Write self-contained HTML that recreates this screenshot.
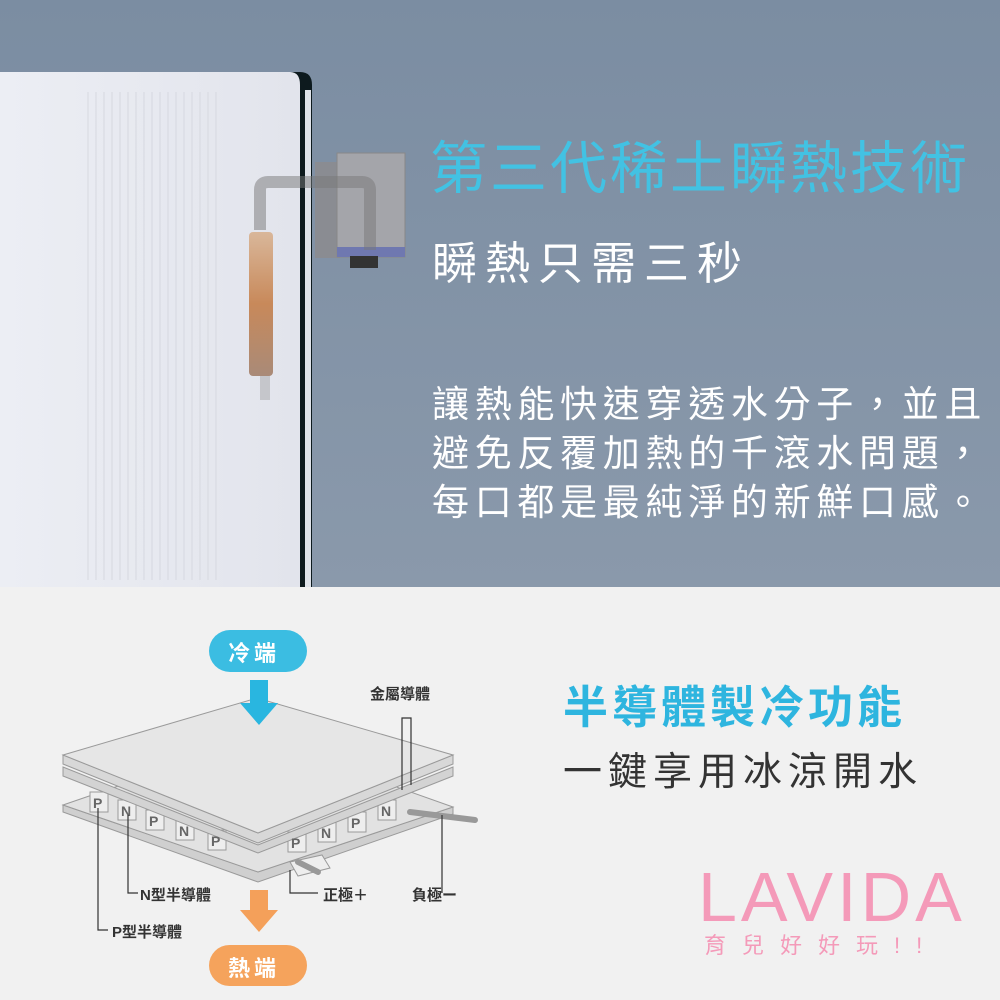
<!DOCTYPE html>
<html><head><meta charset="utf-8"><style>
body{margin:0;width:1000px;height:1000px;overflow:hidden;font-family:"Liberation Sans","Noto Sans CJK TC",sans-serif}
.t{position:absolute;white-space:nowrap}
</style></head><body>
<div style="position:absolute;left:0;top:0;width:1000px;height:587px;background:linear-gradient(#7b8da2,#8a99ab)"></div>
<div style="position:absolute;left:0;top:587px;width:1000px;height:413px;background:#f1f1f1"></div>
<svg width="1000" height="1000" style="position:absolute;left:0;top:0">
<defs><linearGradient id="w" x1="0" x2="1"><stop offset="0" stop-color="#eceef4"/><stop offset="1" stop-color="#e2e4ec"/></linearGradient>
<linearGradient id="c" x1="0" x2="0" y1="0" y2="1"><stop offset="0" stop-color="#d9b79a"/><stop offset=".5" stop-color="#c8895a"/><stop offset="1" stop-color="#a98a78"/></linearGradient></defs>
<path d="M0 72 H300 Q312 72 312 85 V587 H0Z" fill="#0d1a1e"/>
<path d="M0 72 H290 Q300 72 300 85 V587 H0Z" fill="url(#w)"/>
<rect x="305" y="90" width="6" height="497" fill="#dfe3ea"/>
<g stroke="#d6d8e0" stroke-width="1">
<line x1="88" y1="92" x2="88" y2="580"/><line x1="96" y1="92" x2="96" y2="580"/><line x1="104" y1="92" x2="104" y2="580"/><line x1="112" y1="92" x2="112" y2="580"/><line x1="120" y1="92" x2="120" y2="580"/><line x1="128" y1="92" x2="128" y2="580"/><line x1="136" y1="92" x2="136" y2="580"/><line x1="144" y1="92" x2="144" y2="580"/><line x1="152" y1="92" x2="152" y2="580"/><line x1="160" y1="92" x2="160" y2="580"/><line x1="168" y1="92" x2="168" y2="580"/><line x1="176" y1="92" x2="176" y2="580"/><line x1="184" y1="92" x2="184" y2="580"/><line x1="192" y1="92" x2="192" y2="580"/><line x1="200" y1="92" x2="200" y2="580"/><line x1="208" y1="92" x2="208" y2="580"/><line x1="216" y1="92" x2="216" y2="580"/>
</g>
<rect x="315" y="162" width="25" height="96" fill="#8a8c92"/>
<rect x="337" y="153" width="68" height="104" fill="#a4a5aa" stroke="#888"/>
<rect x="337" y="247" width="68" height="10" fill="#6f78b0"/>
<rect x="350" y="256" width="28" height="12" fill="#333"/>
<path d="M260 230 V190 Q260 182 268 182 H362 Q370 182 370 190 V250" fill="none" stroke="#777" stroke-opacity=".5" stroke-width="12"/>
<rect x="260" y="270" width="10" height="130" fill="#999" opacity=".4"/>
<rect x="249" y="232" width="24" height="144" rx="4" fill="url(#c)"/>
<!-- diagram -->
<rect x="209" y="630" width="98" height="42" rx="21" fill="#3bbde2"/>
<g stroke="#9a9a9a" stroke-width="1">
<path d="M63 805 L258 872 L453 807 V814 L258 882 L63 812Z" fill="#cfcfcf"/>
<path d="M63 805 L258 738 L453 807 L258 872Z" fill="#e2e2e2"/>
<g fill="#eeeeee">
<rect x="90" y="792" width="18" height="20"/><rect x="118" y="800" width="18" height="20"/><rect x="146" y="810" width="18" height="20"/><rect x="176" y="820" width="18" height="20"/><rect x="208" y="830" width="18" height="20"/>
<rect x="288" y="832" width="18" height="20"/><rect x="318" y="822" width="18" height="20"/><rect x="348" y="812" width="18" height="20"/><rect x="378" y="800" width="18" height="20"/>
</g>
<path d="M63 767 L258 845 L453 767 V776 L258 853 L63 776Z" fill="#d3d3d3"/>
<path d="M63 755 L258 833 L453 755 V764 L258 843 L63 764Z" fill="#d8d8d8"/>
<path d="M63 755 L257 698 L453 755 L258 833Z" fill="#e6e6e6"/>
<path d="M290 862 L322 855 L330 868 L298 876Z" fill="#eee"/>
<path d="M298 862 L318 872" stroke="#999" stroke-width="6" stroke-linecap="round"/>
<path d="M410 812 L475 820" stroke="#999" stroke-width="6" stroke-linecap="round"/>
</g>
<path d="M250 680 H268 V703 H278 L259 725 L240 703 H250Z" fill="#29b6e0"/>
<g fill="#666" font-size="14" font-weight="bold" font-family="Liberation Sans">
<text x="93" y="808">P</text><text x="121" y="816">N</text><text x="149" y="826">P</text><text x="179" y="836">N</text><text x="211" y="846">P</text><text x="291" y="848">P</text><text x="321" y="838">N</text><text x="351" y="828">P</text><text x="381" y="816">N</text>
</g>
<g stroke="#333" stroke-width="1.2" fill="none">
<path d="M98 808 V930 H108"/><path d="M128 815 V893 H138"/><path d="M290 870 V893 H318"/><path d="M442 815 V893"/>
<path d="M402 790 V718 H411 V785"/>
</g>
<path d="M250 890 H268 V910 H278 L259 932 L240 910 H250Z" fill="#f4a05a"/>
<rect x="209" y="945" width="98" height="41" rx="20.5" fill="#f5a35c"/>
</svg>
<div class="t" style="left:228px;top:636px;font-size:22px;color:#fff;letter-spacing:4px;font-weight:bold">冷端</div>
<div class="t" style="left:228px;top:951px;font-size:22px;color:#fff;letter-spacing:4px;font-weight:bold">熱端</div>
<div class="t" style="left:370px;top:683px;font-size:15px;color:#333;font-weight:bold">金屬導體</div>
<div class="t" style="left:140px;top:884px;font-size:15px;color:#333;font-weight:bold">N型半導體</div>
<div class="t" style="left:112px;top:921px;font-size:15px;color:#333;font-weight:bold">P型半導體</div>
<div class="t" style="left:323px;top:884px;font-size:15px;color:#333;font-weight:bold">正極＋</div>
<div class="t" style="left:412px;top:884px;font-size:15px;color:#333;font-weight:bold">負極ー</div>
<div class="t" style="left:430px;top:136px;font-size:57px;color:#42c2e3;letter-spacing:3px;line-height:66px">第三代稀土瞬熱技術</div>
<div class="t" style="left:432px;top:237px;font-size:45px;color:#fff;letter-spacing:8px;line-height:54px">瞬熱只需三秒</div>
<div class="t" style="left:432px;top:380px;font-size:37px;color:#fff;letter-spacing:5.7px;line-height:49px">讓熱能快速穿透水分子，並且<br>避免反覆加熱的千滾水問題，<br>每口都是最純淨的新鮮口感。</div>
<div class="t" style="left:563px;top:681px;font-size:45px;color:#2eb5df;letter-spacing:4px;line-height:54px;font-weight:bold">半導體製冷功能</div>
<div class="t" style="left:563px;top:749px;font-size:39px;color:#333;letter-spacing:6px;line-height:48px">一鍵享用冰涼開水</div>
<div class="t" style="left:698px;top:860px;font-size:70px;color:#f49ab9;letter-spacing:4px;line-height:74px">LAVIDA</div>
<div class="t" style="left:704px;top:932px;font-size:22px;color:#f49ab9;letter-spacing:16px;line-height:28px">育兒好好玩!!</div>
</body></html>
